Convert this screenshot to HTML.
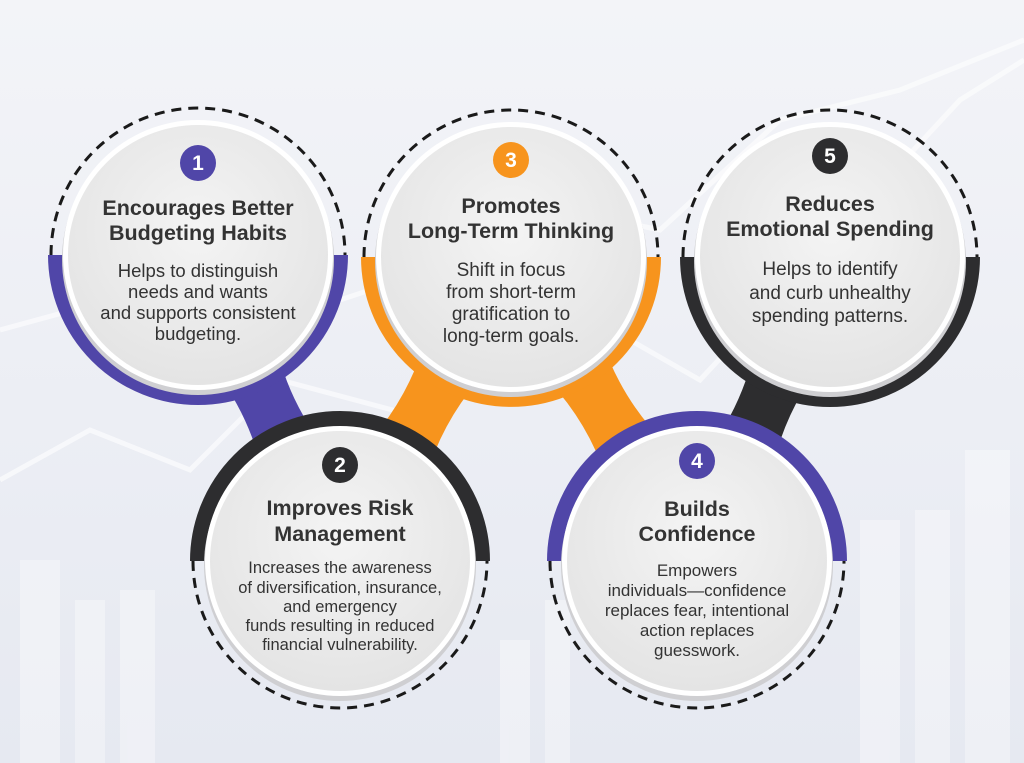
<!DOCTYPE html>
<html><head><meta charset="utf-8">
<style>
html,body{margin:0;padding:0;width:1024px;height:763px;overflow:hidden;background:#eef0f6;}
svg{display:block;}
text{font-family:"Liberation Sans",Arial,sans-serif;}
</style></head>
<body>
<svg id="s" width="1024" height="763" viewBox="0 0 1024 763" xmlns="http://www.w3.org/2000/svg">
<defs>
<linearGradient id="bg" x1="0" y1="0" x2="0" y2="1">
<stop offset="0" stop-color="#f3f4f8"/><stop offset="1" stop-color="#e6e9f1"/></linearGradient>
<radialGradient id="disc" cx="0.5" cy="0.4" r="0.6">
<stop offset="0" stop-color="#f4f4f4"/><stop offset="1" stop-color="#e4e4e4"/></radialGradient>
</defs>
<rect width="1024" height="763" fill="url(#bg)"/>
<g fill="#ffffff" opacity="0.35">
<rect x="20" y="560" width="40" height="203"/><rect x="75" y="600" width="30" height="163"/>
<rect x="120" y="590" width="35" height="173"/><rect x="860" y="520" width="40" height="243"/>
<rect x="915" y="510" width="35" height="253"/><rect x="965" y="450" width="45" height="313"/>
<rect x="500" y="640" width="30" height="123"/><rect x="545" y="600" width="25" height="163"/>
</g>
<g fill="none" stroke="#ffffff" stroke-width="5" opacity="0.6">
<polyline points="0,480 90,430 190,470 280,380 430,420 560,300 700,380 830,240 960,100 1024,60"/>
<polyline points="0,330 110,300 250,330 400,280 520,200 660,230 780,120 900,90 1024,40"/>
</g>
<g id="g"></g>
</svg>
<script>
var NS="http://www.w3.org/2000/svg",g=document.getElementById('g');
function el(t,a,txt){var e=document.createElementNS(NS,t);for(var k in a)e.setAttribute(k,a[k]);if(txt!=null)e.textContent=txt;g.appendChild(e);return e;}
var P="#5046a8",O="#f7941d",D="#2d2d2f";
var C=[
{x:198,y:255,c:P,down:true,n:"1",by:163,t:["Encourages Better","Budgeting Habits"],ty:[207,232],fs:18.5,b:["Helps to distinguish","needs and wants","and supports consistent","budgeting."],bty:[271,292,313,334]},
{x:340,y:561,c:D,down:false,n:"2",by:465,t:["Improves Risk","Management"],ty:[507,533],fs:16.5,b:["Increases the awareness","of diversification, insurance,","and emergency","funds resulting in reduced","financial vulnerability."],bty:[567,587,606,625,644]},
{x:511,y:257,c:O,down:true,n:"3",by:160,t:["Promotes","Long-Term Thinking"],ty:[205,230],fs:19,b:["Shift in focus","from short-term","gratification to","long-term goals."],bty:[270,292,314,336]},
{x:697,y:561,c:P,down:false,n:"4",by:461,t:["Builds","Confidence"],ty:[508,533],fs:17,b:["Empowers","individuals\u2014confidence","replaces fear, intentional","action replaces","guesswork."],bty:[570,590,610,630,650]},
{x:830,y:257,c:D,down:true,n:"5",by:156,t:["Reduces","Emotional Spending"],ty:[203,228],fs:19,b:["Helps to identify","and curb unhealthy","spending patterns."],bty:[269,293,316]}
];
var R=150,RB=16;
function neck(a,b,col){
 var mx=(a.x+b.x)/2,my=(a.y+b.y)/2,dx=b.x-a.x,dy=b.y-a.y,L=Math.hypot(dx,dy);dx/=L;dy/=L;var nx=-dy,ny=dx;
 var h=60,w=34,wc=20;
 var p1=[mx-dx*h+nx*w,my-dy*h+ny*w],p2=[mx+dx*h+nx*w,my+dy*h+ny*w],p3=[mx+dx*h-nx*w,my+dy*h-ny*w],p4=[mx-dx*h-nx*w,my-dy*h-ny*w];
 var c1=[mx+nx*wc,my+ny*wc],c2=[mx-nx*wc,my-ny*wc];
 el('path',{d:"M"+p1+" Q"+c1+" "+p2+" L"+p3+" Q"+c2+" "+p4+" Z",fill:col});
}
neck(C[0],C[1],P);neck(C[2],C[1],O);neck(C[2],C[3],O);neck(C[4],C[3],D);
C.forEach(function(c){
 var r=R-RB/2;
 el('path',{d:"M"+(c.x-r)+","+c.y+" A"+r+","+r+" 0 0 "+(c.down?0:1)+" "+(c.x+r)+","+c.y,fill:"none",stroke:c.c,"stroke-width":RB});
 var rd=R-3;
 el('path',{d:"M"+(c.x-rd)+","+c.y+" A"+rd+","+rd+" 0 0 "+(c.down?1:0)+" "+(c.x+rd)+","+c.y,fill:"none",stroke:"#1a1a1a","stroke-width":3,"stroke-dasharray":"10 7"});
 el('circle',{cx:c.x,cy:c.y+4,r:136,fill:"#cfcfd2"});
 el('circle',{cx:c.x,cy:c.y,r:135,fill:"#ffffff"});
 el('circle',{cx:c.x,cy:c.y,r:130,fill:"url(#disc)"});
 el('circle',{cx:c.x,cy:c.by,r:18,fill:c.c});
 el('text',{x:c.x,y:c.by+7,"text-anchor":"middle","font-size":21,"font-weight":"bold",fill:"#fff"},c.n);
 c.t.forEach(function(t,i){el('text',{x:c.x,y:c.ty[i]+8,"text-anchor":"middle","font-size":21.5,"font-weight":"bold",fill:"#333"},t);});
 c.b.forEach(function(t,i){el('text',{x:c.x,y:c.bty[i]+6,"text-anchor":"middle","font-size":c.fs,fill:"#333"},t);});
});
</script>
</body></html>
